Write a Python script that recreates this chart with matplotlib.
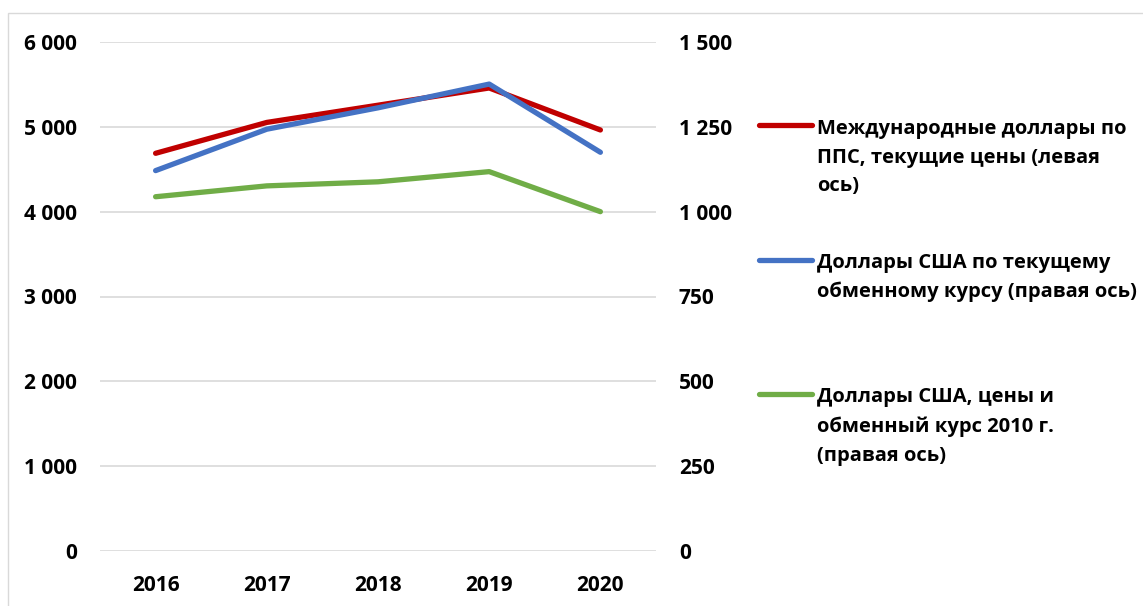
import matplotlib.pyplot as plt
from matplotlib.lines import Line2D
from matplotlib.patches import Rectangle
from matplotlib.ticker import FuncFormatter

# data
years = ["2016", "2017", "2018", "2019", "2020"]
ppp_intl = [4688, 5052, 5255, 5458, 4963]        # left axis
usd_current = [1121, 1243, 1306, 1376, 1175]     # right axis
usd_2010 = [1044, 1076, 1088, 1118, 1000]        # right axis

labels = [
    "Международные доллары по\nППС, текущие цены (левая\nось)",
    "Доллары США по текущему\nобменному курсу (правая ось)",
    "Доллары США, цены и\nобменный курс 2010 г.\n(правая ось)",
]
colors = ["#C00000", "#4472C4", "#70AD47"]

plt.rcParams['font.family'] = ['Open Sans', 'DejaVu Sans']
plt.rcParams['font.weight'] = 'bold'

W, H = 1143, 606
fig = plt.figure(figsize=(W / 100, H / 100), dpi=100)

# thin frame around the chart area
fig.patches.append(Rectangle((8 / W, -0.1), 1.2, 1 - 13 / H + 0.1, transform=fig.transFigure,
                             fill=False, edgecolor="#D9D9D9", linewidth=1))

ax = fig.add_axes([100 / W, 1 - 551 / H, 556 / W, 509 / H])
ax2 = ax.twinx()

x = range(len(years))
ax.plot(x, ppp_intl, color=colors[0], lw=3.8, solid_capstyle='round', zorder=3)
ax2.plot(x, usd_current, color=colors[1], lw=3.8, solid_capstyle='round', zorder=3)
ax2.plot(x, usd_2010, color=colors[2], lw=3.8, solid_capstyle='round', zorder=3)

ax.set_xlim(-0.5, 4.5)
ax.set_ylim(0, 6000)
ax2.set_ylim(0, 1500)
ax.set_yticks(range(0, 6001, 1000))
ax2.set_yticks(range(0, 1501, 250))

fmt = FuncFormatter(lambda v, p: f"{int(v):,}".replace(",", " "))
ax.yaxis.set_major_formatter(fmt)
ax2.yaxis.set_major_formatter(fmt)

ax.set_xticks(list(x))
ax.set_xticklabels(years)

ax.grid(axis='y', color="#D9D9D9", linewidth=1.2)
ax.set_axisbelow(True)
for a in (ax, ax2):
    for s in a.spines.values():
        s.set_visible(False)
    a.tick_params(length=0, labelsize=15)
    for t in a.get_xticklabels() + a.get_yticklabels():
        t.set_fontweight('bold')
ax.tick_params(axis='y', pad=16.5)
ax2.tick_params(axis='y', pad=16.5)
ax.tick_params(axis='x', pad=17)

# legend drawn by hand so the handle sits at the first text line
leg_y = [125, 260, 394]
line_h = 29.5
for lab, c, yy in zip(labels, colors, leg_y):
    fy = 1 - yy / H
    fig.lines.append(Line2D([759 / W, 812 / W], [fy, fy], transform=fig.transFigure,
                            color=c, lw=3.8, solid_capstyle='round'))
    n = lab.count("\n")
    base = yy + 7.5 + n * line_h   # baseline of the last line
    fig.text(817 / W, 1 - base / H, lab, fontsize=14.5, fontweight='bold',
             va='baseline', ha='left', linespacing=1.58)

fig.savefig("out.png", dpi=100, facecolor="white")
